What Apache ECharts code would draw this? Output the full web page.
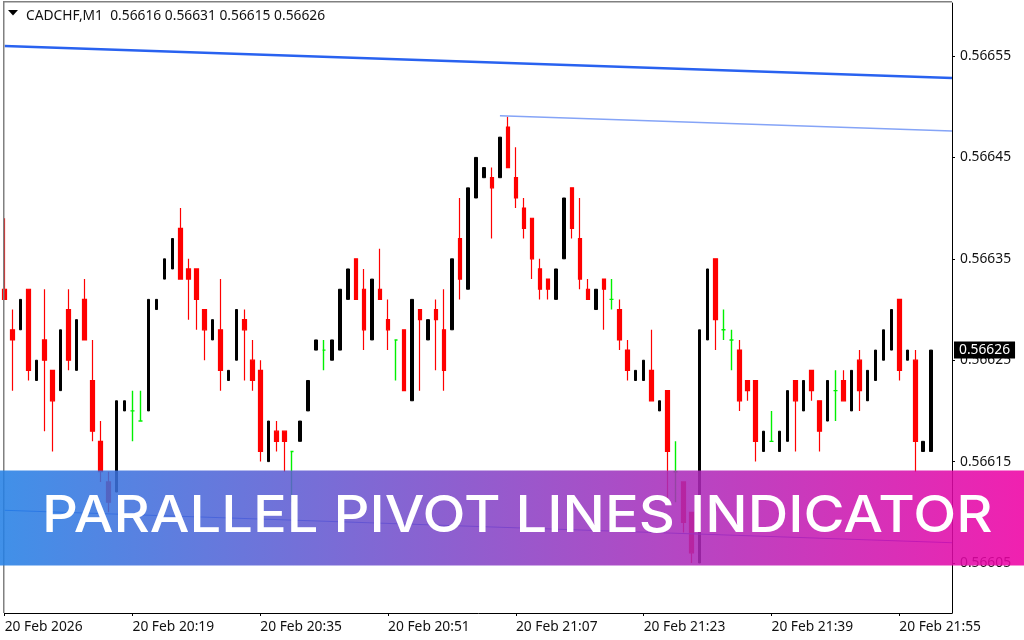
<!DOCTYPE html>
<html lang="en" style="height: 100%">
<head>
  <meta charset="UTF-8">
  <title>Parallel Pivot Lines Indicator</title>
</head>
<body style="height: 100%; margin: 0; background: #fff">
<div id="container" style="width: 1024px; height: 640px"></div>
<script type="text/javascript" src="https://cdn.jsdelivr.net/npm/echarts@6/dist/echarts.min.js"></script>

<script type="text/javascript">
  // prices are kept as points above 0.56000, so 632 means 0.56632
  var opens = [
    632, 628, 628, 632, 623, 627, 624, 622, 630, 624, 631, 623, 617, 613, 612, 620, 620, 619, 620, 630,
    633, 634, 638, 634, 634, 630, 627, 628, 623, 625, 629, 625, 624, 615, 618, 618, 616, 617, 620, 626,
    626, 625, 626, 631, 635, 632, 627, 632, 629, 627, 628, 621, 630, 627, 630, 628, 628, 637, 632, 641,
    643, 643, 643, 648, 643, 640, 639, 634, 633, 631, 635, 642, 637, 632, 630, 633, 631, 630, 626, 623,
    623, 624, 620, 622, 614, 613, 610, 605, 627, 635, 628, 627, 626, 623, 623, 616, 617, 616, 617, 623,
    620, 624, 621, 619, 622, 623, 620, 625, 621, 623, 625, 626, 631, 625, 625, 616, 616
  ];
  var closes = [
    631, 627, 631, 624, 625, 625, 621, 628, 625, 629, 627, 618, 614, 611, 621, 621, 620, 619, 631, 631,
    635, 637, 633, 633, 631, 628, 629, 624, 624, 630, 628, 623, 616, 619, 617, 617, 616, 619, 623, 627,
    626, 627, 632, 634, 631, 628, 633, 631, 628, 627, 622, 631, 629, 629, 629, 624, 635, 633, 642, 645,
    644, 642, 647, 644, 641, 638, 635, 632, 632, 634, 641, 638, 633, 631, 632, 632, 631, 627, 624, 624,
    625, 621, 621, 616, 614, 609, 606, 628, 634, 629, 628, 627, 621, 622, 617, 618, 617, 618, 622, 621,
    623, 622, 618, 623, 622, 621, 624, 622, 624, 626, 628, 630, 624, 626, 617, 617, 626
  ];
  var lows = [
    631, 622, 628, 623, 623, 618, 616, 622, 624, 624, 627, 617, 613, 610, 612, 620, 617, 619, 620, 630,
    633, 634, 633, 629, 628, 625, 627, 622, 623, 625, 623, 622, 615, 615, 616, 614, 611, 617, 620, 626,
    624, 625, 626, 631, 631, 626, 627, 631, 626, 623, 622, 621, 622, 627, 624, 622, 628, 631, 632, 641,
    643, 637, 643, 644, 640, 637, 633, 631, 631, 631, 635, 637, 632, 631, 630, 628, 630, 626, 623, 623,
    623, 621, 620, 611, 611, 608, 605, 605, 627, 626, 627, 624, 620, 621, 615, 616, 617, 616, 617, 616,
    620, 621, 616, 619, 619, 621, 620, 620, 621, 623, 625, 626, 623, 625, 614, 616, 616
  ];
  var highs = [
    639, 630, 631, 632, 625, 632, 624, 628, 632, 629, 633, 627, 619, 614, 621, 621, 622, 622, 631, 631,
    635, 637, 640, 635, 634, 630, 629, 633, 624, 630, 630, 627, 625, 619, 619, 618, 616, 619, 623, 627,
    627, 627, 632, 634, 635, 634, 633, 636, 631, 627, 628, 631, 630, 629, 631, 632, 635, 641, 642, 645,
    644, 644, 647, 649, 646, 641, 639, 635, 633, 634, 641, 642, 641, 633, 632, 633, 633, 631, 627, 624,
    625, 628, 621, 622, 617, 613, 610, 628, 634, 635, 630, 628, 627, 623, 623, 618, 620, 618, 622, 623,
    623, 624, 621, 623, 624, 624, 624, 626, 624, 626, 628, 630, 631, 626, 626, 617, 626
  ];

  // pivot channel lines: [bar, points]
  var upperLine = [[0, 655.99], [118.6, 652.83]];
  var middleLine = [[62, 649.1], [118.6, 647.6]];
  var lowerLine = [[0, 610.2], [118.6, 607.0]];

  var priceTicks = [0.56605, 0.56615, 0.56625, 0.56635, 0.56645, 0.56655];
  var lastPrice = 0.56626;
  var timeLabels = ['20 Feb 2026', '20 Feb 20:19', '20 Feb 20:35', '20 Feb 20:51', '20 Feb 21:07',
    '20 Feb 21:23', '20 Feb 21:39', '20 Feb 21:55'];
  var header = 'CADCHF,M1  0.56616 0.56631 0.56615 0.56626';
  var bannerText = 'PARALLEL PIVOT LINES INDICATOR';

  function toPrice(p) {
    return +(0.56 + p / 100000).toFixed(5);
  }
  function toLine(points) {
    return points.map(function (d) {
      return [d[0], 0.56 + d[1] / 100000];
    });
  }

  var bars = opens.map(function (o, i) {
    return [i, toPrice(o), toPrice(closes[i]), toPrice(lows[i]), toPrice(highs[i])];
  });
  // black up bars are drawn narrower than the red ones, and dojis are green
  var upBars = bars.filter(function (b) { return b[2] > b[1]; });
  var downBars = bars.filter(function (b) { return b[2] < b[1]; });
  var dojiBars = bars.filter(function (b) { return b[2] === b[1]; });

  function candles(data, barWidth, color, width) {
    return {
      type: 'candlestick',
      data: data,
      encode: { x: 0, y: [1, 2, 3, 4] },
      barWidth: barWidth,
      itemStyle: {
        color: color,
        borderColor: color,
        color0: color,
        borderColor0: color,
        borderColorDoji: color,
        borderWidth: width
      }
    };
  }

  var uiFont = '"Noto Sans", sans-serif';
  var uiSize = 13.8;
  var dom = document.getElementById('container');
  var myChart = echarts.init(dom, null, { renderer: 'canvas' });

  var option = {
    animation: false,
    backgroundColor: '#fff',
    title: {
      text: header,
      left: 26,
      top: 8,
      padding: 0,
      textStyle: { fontFamily: uiFont, fontSize: uiSize, fontWeight: 'normal', color: '#111', lineHeight: 16 }
    },
    grid: { left: 4.7, right: 72, top: 3, bottom: 27 },
    xAxis: {
      type: 'value',
      min: 0,
      max: 118.6,
      interval: 16,
      splitLine: { show: false },
      axisLine: { onZero: false, lineStyle: { color: '#000', width: 1 } },
      axisTick: { length: 3, lineStyle: { color: '#000' } },
      axisLabel: {
        showMaxLabel: false,
        align: 'left',
        margin: 7,
        fontFamily: uiFont,
        fontSize: uiSize,
        color: '#111',
        formatter: function (v) {
          return timeLabels[v / 16] || '';
        }
      }
    },
    yAxis: [
      {
        type: 'value',
        position: 'right',
        min: 0.5660007,
        max: 0.5666023,
        scale: true,
        splitLine: { show: false },
        axisLine: { show: true, onZero: false, lineStyle: { color: '#000', width: 1 } },
        axisTick: { show: true, length: 3, customValues: priceTicks, lineStyle: { color: '#000' } },
        axisLabel: {
          customValues: priceTicks,
          margin: 8,
          padding: [2, 0, 0, 0],
          fontFamily: uiFont,
          fontSize: uiSize,
          color: '#111',
          formatter: function (v) {
            return v.toFixed(5);
          }
        }
      },
      {
        type: 'value',
        position: 'right',
        min: 0.5660007,
        max: 0.5666023,
        scale: true,
        splitLine: { show: false },
        axisLine: { show: false, onZero: false },
        axisTick: { show: false },
        axisLabel: {
          customValues: [lastPrice],
          margin: 2,
          fontFamily: uiFont,
          fontSize: uiSize,
          color: '#fff',
          backgroundColor: '#000',
          lineHeight: 15,
          padding: [1, 5, 1, 5],
          formatter: function (v) {
            return v.toFixed(5);
          }
        }
      }
    ],
    series: [
      candles(upBars, 3, '#000', 1),
      candles(downBars, 4, '#ff0000', 1.2),
      candles(dojiBars, 4, '#00f000', 1.4),
      {
        type: 'line',
        data: toLine(upperLine),
        showSymbol: false,
        lineStyle: { color: '#2962f0', width: 2.5 }
      },
      {
        type: 'line',
        data: toLine(middleLine),
        showSymbol: false,
        lineStyle: { color: '#85a4f7', width: 1.5 }
      },
      {
        type: 'line',
        data: toLine(lowerLine),
        showSymbol: false,
        lineStyle: { color: '#2962f0', width: 1 }
      }
    ],
    graphic: [
      { type: 'rect', z: 5, silent: true, shape: { x: 3, y: 1, width: 1.5, height: 612 }, style: { fill: '#808080' } },
      { type: 'rect', z: 5, silent: true, shape: { x: 3, y: 1, width: 949, height: 1.5 }, style: { fill: '#808080' } },
      { type: 'polygon', z: 5, silent: true, shape: { points: [[8, 10], [18, 10], [13, 15.5]] }, style: { fill: '#000' } },
      {
        type: 'rect',
        z: 100,
        silent: true,
        shape: { x: 0, y: 470.5, width: 1024, height: 95 },
        style: {
          fill: new echarts.graphic.LinearGradient(0, 0, 1, 0, [
            { offset: 0, color: 'rgba(36,128,229,0.87)' },
            { offset: 1, color: 'rgba(238,0,164,0.87)' }
          ])
        }
      },
      {
        type: 'text',
        z: 101,
        silent: true,
        x: 42,
        y: 516.5,
        scaleX: 1.1,
        style: {
          text: bannerText,
          fill: '#fff',
          font: '500 51px Inter, sans-serif',
          textVerticalAlign: 'middle'
        }
      }
    ]
  };

  myChart.setOption(option);
  window.addEventListener('resize', myChart.resize);
</script>
</body>
</html>
